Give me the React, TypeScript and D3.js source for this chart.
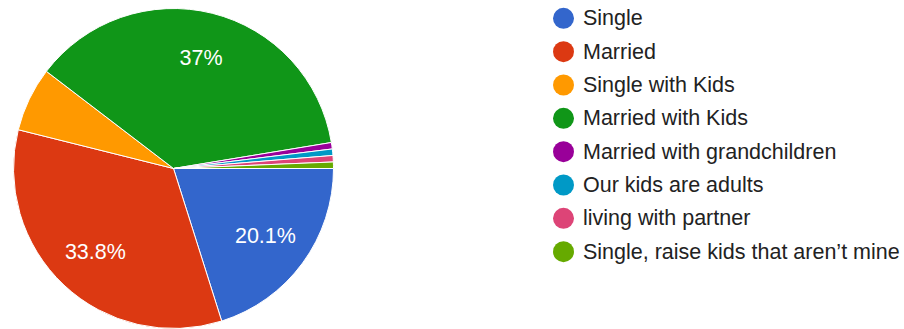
import React from "react";
import * as d3 from "d3";

const categories = [
  "Single",
  "Married",
  "Single with Kids",
  "Married with Kids",
  "Married with grandchildren",
  "Our kids are adults",
  "living with partner",
  "Single, raise kids that aren’t mine",
];
const counts = [31, 52, 10, 57, 1, 1, 1, 1];
const colors = ["#3366cc", "#dc3912", "#ff9900", "#109618", "#990099", "#0099c6", "#dd4477", "#66aa00"];

const W = 904;
const H = 329;
const cx = 173.5;
const cy = 168.5;
const R = 160;
const labelR = 114;

export default function App() {
  const total = d3.sum(counts);
  const pie = d3
    .pie<number>()
    .sort(null)
    .startAngle(Math.PI / 2)
    .endAngle(Math.PI / 2 + 2 * Math.PI);
  const arcs = pie(counts);
  const arc = d3.arc<d3.PieArcDatum<number>>().innerRadius(0).outerRadius(R);
  const labelArc = d3.arc<d3.PieArcDatum<number>>().innerRadius(labelR).outerRadius(labelR);
  const fmt = d3.format(".3~r");
  const legendY = d3.scalePoint<number>().domain(d3.range(categories.length)).range([18.3, 251.7]);

  return (
    <svg
      width={W}
      height={H}
      style={{ position: "absolute", left: 0, top: 0, background: "#fff" }}
      fontFamily="Arial, 'Liberation Sans', sans-serif"
    >
      <g transform={`translate(${cx},${cy})`}>
        {arcs.map((a, i) => (
          <path key={i} d={arc(a) || ""} fill={colors[i]} stroke="#fff" strokeWidth={1} />
        ))}
        {arcs.map((a, i) => {
          const pct = (a.data / total) * 100;
          if (pct < 10) return null;
          const [x, y] = labelArc.centroid(a);
          return (
            <text
              key={"l" + i}
              x={x}
              y={y}
              textAnchor="middle"
              dominantBaseline="central"
              fill="#fff"
              fontSize={21.5}
            >
              {fmt(pct)}%
            </text>
          );
        })}
      </g>
      <g>
        {categories.map((c, i) => (
          <g key={c} transform={`translate(563.5,${legendY(i)})`}>
            <circle r={10.5} fill={colors[i]} />
            <text x={19.5} dominantBaseline="central" fontSize={21.5} fill="#222">
              {c}
            </text>
          </g>
        ))}
      </g>
    </svg>
  );
}
